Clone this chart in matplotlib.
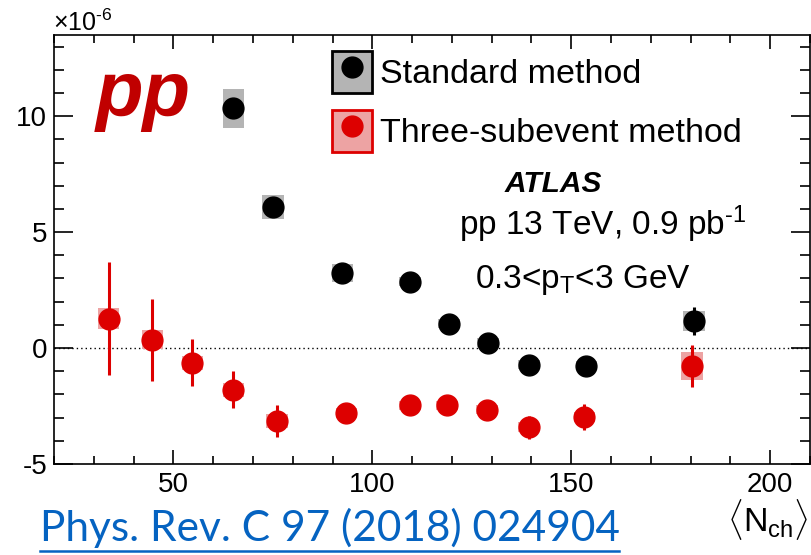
import matplotlib
matplotlib.use("Agg")
import matplotlib.pyplot as plt
from matplotlib.patches import Patch
from matplotlib.lines import Line2D
from matplotlib.ticker import MultipleLocator

plt.rcParams['font.family'] = ['Liberation Sans', 'DejaVu Sans']
plt.rcParams['mathtext.fontset'] = 'custom'
plt.rcParams['mathtext.rm'] = 'Liberation Sans'
plt.rcParams['mathtext.it'] = 'Liberation Sans:italic'
plt.rcParams['mathtext.bf'] = 'Liberation Sans:bold'
plt.rcParams['axes.unicode_minus'] = False

# ---- data ----
std_x = [65.1, 75.1, 92.5, 109.5, 119.3, 129.1, 139.4, 153.8, 180.9]
std_y = [10.34, 6.08, 3.23, 2.86, 1.05, 0.23, -0.72, -0.76, 1.15]
std_stat = [0.3, 0.3, 0.3, 0.3, 0.3, 0.3, 0.3, 0.3, 0.6]
std_sys = [0.84, 0.5, 0.4, 0.2, 0.2, 0.2, 0.2, 0.2, 0.43]

sub_x = [33.7, 44.7, 54.8, 65.1, 76.1, 93.5, 109.5, 118.8, 128.8, 139.3, 153.3, 180.4]
sub_y = [1.26, 0.36, -0.63, -1.80, -3.16, -2.80, -2.47, -2.47, -2.66, -3.41, -2.97, -0.76]
sub_stat = [2.43, 1.77, 1.0, 0.79, 0.69, 0.3, 0.3, 0.3, 0.3, 0.5, 0.55, 0.9]
sub_sys = [0.45, 0.4, 0.3, 0.3, 0.3, 0.2, 0.2, 0.2, 0.2, 0.2, 0.2, 0.6]

box_halfwidth = 2.7
RED = '#DD0000'
GRAY = '#B4B4B4'
PINK = '#EDA3A3'

fig = plt.figure(figsize=(8.12, 5.55), dpi=100)
ax = fig.add_axes([54/812, 1-464/555, (810-54)/812, (464-35)/555])

ax.set_xlim(20, 210)
ax.set_ylim(-5, 13.5)

ax.axhline(0, color='black', lw=1.0, ls=(0, (1, 2.2)), zorder=1)

# systematic boxes
ax.bar(std_x, [2*s for s in std_sys], bottom=[y - s for y, s in zip(std_y, std_sys)],
       width=2*box_halfwidth, color=GRAY, edgecolor='none', zorder=2)
ax.bar(sub_x, [2*s for s in sub_sys], bottom=[y - s for y, s in zip(sub_y, sub_sys)],
       width=2*box_halfwidth, color=PINK, edgecolor='none', zorder=2)

# stat errors + markers
ax.errorbar(std_x, std_y, yerr=std_stat, fmt='o', color='black', ms=15,
            elinewidth=2.2, capsize=0, zorder=4)
ax.errorbar(sub_x, sub_y, yerr=sub_stat, fmt='o', color=RED, ms=15,
            elinewidth=2.2, capsize=0, zorder=3)

# axes styling (ROOT-like)
ax.xaxis.set_major_locator(MultipleLocator(50))
ax.xaxis.set_minor_locator(MultipleLocator(10))
ax.yaxis.set_major_locator(MultipleLocator(5))
ax.yaxis.set_minor_locator(MultipleLocator(1))
ax.tick_params(axis='both', which='both', direction='in', top=True, right=True,
               labelsize=20, width=1.2, colors='black')
ax.tick_params(axis='y', which='major', length=14, pad=5)
ax.tick_params(axis='y', which='minor', length=7)
ax.tick_params(axis='x', which='major', length=10, pad=6)
ax.tick_params(axis='x', which='minor', length=5.5)
for sp in ax.spines.values():
    sp.set_linewidth(1.2)

# legend
h_std = (Patch(facecolor=GRAY, edgecolor='black', linewidth=2),
         Line2D([], [], marker='o', color='black', ls='none', ms=15))
h_sub = (Patch(facecolor=PINK, edgecolor=RED, linewidth=2),
         Line2D([], [], marker='o', color=RED, ls='none', ms=15))
ax.legend([h_std, h_sub], ['Standard method', 'Three-subevent method'],
          loc='upper left', bbox_to_anchor=(0.368, 0.962), frameon=False,
          fontsize=24.5, handlelength=1.18, handleheight=1.52, labelspacing=0.5,
          handletextpad=0.22, borderpad=0, borderaxespad=0)

# texts
def fx(px):
    return px/812
def fy(py):
    return 1 - py/555

fig.text(fx(53), fy(31), '×10$^{\\mathregular{\u2010}6}$', fontsize=18, ha='left', va='baseline')
fig.text(fx(96), fy(116), 'pp', fontsize=56, fontweight='bold', fontstyle='italic',
         color='#C00000', ha='left', va='baseline')
fig.text(fx(505), fy(192), 'ATLAS', fontsize=21.5, fontweight='bold', fontstyle='italic',
         ha='left', va='baseline')
fig.text(fx(459), fy(235), 'pp 13 TeV, 0.9 pb$^{\\mathregular{\u20101}}$', fontsize=24,
         ha='left', va='baseline')
fig.text(fx(475), fy(288), '0.3<p$_{\\mathregular{T}}$<3 GeV', fontsize=24,
         ha='left', va='baseline')
fig.text(fx(809), fy(532), r'$\langle$N$_{\mathregular{ch}}$$\rangle$', fontsize=24.5,
         ha='right', va='baseline')

fig.text(fx(40), fy(541), 'Phys. Rev. C 97 (2018) 024904', fontsize=30.5,
         color='#0563C1', ha='left', va='baseline', family=['Lato', 'Liberation Sans'])
fig.add_artist(Line2D([fx(40), fx(619)], [fy(551), fy(551)], color='#0563C1', lw=1.8))

fig.savefig('out.png', dpi=100)
